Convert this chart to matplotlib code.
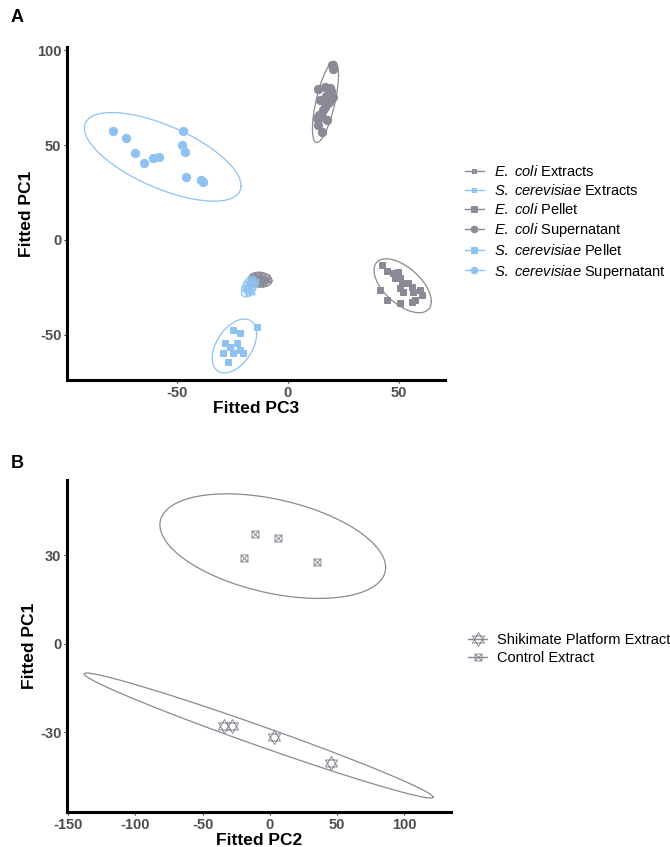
import numpy as np
import matplotlib
matplotlib.use("Agg")
import matplotlib.pyplot as plt
from matplotlib.path import Path
from matplotlib.lines import Line2D

plt.rcParams['font.family'] = ['Liberation Sans', 'DejaVu Sans']
plt.rcParams['mathtext.fontset'] = 'custom'
plt.rcParams['mathtext.rm'] = 'Liberation Sans'
plt.rcParams['mathtext.it'] = 'Liberation Sans:italic'
plt.rcParams['axes.unicode_minus'] = False

GRAY = '#8c8895'
BLUE = '#8ec2f0'

# ====================== DATA ======================
# Panel A: Fitted PC3 (x) vs Fitted PC1 (y)
ecoli_extract_x = [-15.5, -14, -12.5, -11, -9.5, -16, -14.5, -13, -11.5, -10,
                   -15, -13.5, -12, -10.5, -9, -14, -12, -10.8]
ecoli_extract_y = [-19, -18.2, -18.5, -18.8, -19.5, -20.5, -20, -20.3, -20.8, -21,
                   -22, -21.6, -22.2, -21.8, -21, -23, -23.4, -22.8]
scer_extract_x = [-17, -15.5, -14.5, -18.5, -17.5, -16, -15, -19, -18, -16.5,
                  -19.5, -18.5, -17, -16, -18]
scer_extract_y = [-21, -20.5, -21.5, -22.5, -23, -22.3, -23.4, -24.5, -25, -24.2,
                  -26, -26.8, -25.8, -27.5, -28]
ecoli_pellet_x = [42.2, 44.5, 47.4, 49.7, 48.2, 50.5, 51.2, 50.5, 51.9, 55.7,
                  56.4, 59.5, 60.2, 57.2, 55.7, 44.5, 50.5, 41.4, 54.2]
ecoli_pellet_y = [-13.2, -16.2, -17.5, -16.7, -20.2, -20.2, -22.8, -25.4, -27.2, -24.6,
                  -27.2, -26.3, -28.9, -31.6, -32.5, -31.6, -33.3, -26.3, -22.8]
ecoli_super_x = [19.7, 20.2, 18.9, 13.6, 16.7, 18.9, 20.4, 14.4, 18.2, 15.9,
                 12.9, 15.2, 13.6, 15.2, 17.4, 19.0, 17.0, 14.0, 16.5, 19.5]
ecoli_super_y = [92.1, 90.0, 80.0, 79.3, 80.4, 77.2, 75.4, 73.7, 71.9, 68.4,
                 64.0, 64.9, 60.5, 57.0, 63.2, 73.0, 76.0, 66.0, 70.0, 78.5]
scer_pellet_x = [-14.1, -24.6, -21.6, -28.4, -26.1, -23.1, -21.6, -24.6, -20.1, -29.1, -26.9]
scer_pellet_y = [-45.9, -47.4, -48.8, -54.4, -56.2, -54.4, -57.9, -59.6, -59.6, -59.6, -64.1]
scer_super_x = [-79, -73, -69, -65, -60.7, -58, -47.2, -47.7, -46.5, -46, -39, -38.1]
scer_super_y = [57.5, 53.7, 46, 40.7, 43.2, 43.5, 57.5, 49.8, 46.3, 33, 31.6, 30.5]

# Panel B: Fitted PC2 (x) vs Fitted PC1 (y)
shik_x = [-34.2, -28.0, 3.2, 45.3]
shik_y = [-27.7, -27.7, -31.6, -40.4]
ctrl_x = [-11.1, 6.4, -19.1, 35.0]
ctrl_y = [37.2, 35.8, 29.0, 27.7]

# ====================== MARKERS ======================
box_x = Path([(-1, -1), (1, -1), (1, 1), (-1, 1), (-1, -1), (-1, -1), (1, 1), (1, -1), (-1, 1)],
             [Path.MOVETO, Path.LINETO, Path.LINETO, Path.LINETO, Path.CLOSEPOLY,
              Path.MOVETO, Path.LINETO, Path.MOVETO, Path.LINETO])
h = np.sqrt(3) / 2
hexagram = Path([(0, 1), (h, -0.5), (-h, -0.5), (0, 1), (0, -1), (h, 0.5), (-h, 0.5), (0, -1)],
                [Path.MOVETO, Path.LINETO, Path.LINETO, Path.CLOSEPOLY,
                 Path.MOVETO, Path.LINETO, Path.LINETO, Path.CLOSEPOLY])


# ====================== ELLIPSE (like ggplot stat_ellipse) ======================
def cov_trob(xy, nu=5, maxit=25, tol=0.01):
    n, p = xy.shape
    wt = np.ones(n)
    loc = xy.mean(axis=0)
    w = np.sqrt(wt)
    for _ in range(maxit):
        w0 = w
        X = xy - loc
        _, d, vt = np.linalg.svd(np.sqrt(w / w.sum())[:, None] * X, full_matrices=False)
        wX = X @ vt.T @ np.diag(1 / d)
        Q = (wX ** 2).sum(axis=1)
        w = wt * (nu + p) / (nu + Q)
        loc = (w[:, None] * xy).sum(axis=0) / w.sum()
        if np.all(np.abs(w - w0) < tol):
            break
    sw = np.sqrt(w)[:, None] * X
    return loc, sw.T @ sw / wt.sum()


def ellipse(ax, xs, ys, color, level=0.95, lw=0.9):
    xy = np.column_stack([xs, ys]).astype(float)
    d = len(xy) - 1
    f = (d / 2) * ((1 - level) ** (-2 / d) - 1)  # qf(level, 2, d)
    radius = np.sqrt(2 * f)
    center, shape = cov_trob(xy)
    t = np.linspace(0, 2 * np.pi, 200)
    circle = np.column_stack([np.cos(t), np.sin(t)])
    L = np.linalg.cholesky(shape)
    pts = center + radius * circle @ L.T
    ax.plot(pts[:, 0], pts[:, 1], color=color, lw=lw, zorder=1)


def style(ax, xlabel, ylabel):
    for s in ['top', 'right']:
        ax.spines[s].set_visible(False)
    for s in ['left', 'bottom']:
        ax.spines[s].set_linewidth(2.2)
        ax.spines[s].set_color('black')
    ax.tick_params(length=2.5, width=0.8, color='#333333', labelcolor='#4d4d4d', labelsize=10.5, pad=1.5)
    for lab in ax.get_xticklabels() + ax.get_yticklabels():
        lab.set_fontweight('bold')
    ax.set_xlabel(xlabel, fontsize=12.5, fontweight='bold', labelpad=1)
    ax.set_ylabel(ylabel, fontsize=12.5, fontweight='bold', labelpad=2)


fig = plt.figure(figsize=(6.7, 8.47), dpi=100)

# ====================== PANEL A ======================
axA = fig.add_axes([0.1, 0.5514, 0.564, 0.3931])
groupsA = [
    (ecoli_extract_x, ecoli_extract_y, GRAY, box_x, 3.5, 'none', r'$\mathit{E.}$ $\mathit{coli}$ Extracts'),
    (scer_extract_x, scer_extract_y, BLUE, box_x, 3.5, 'none', r'$\mathit{S.}$ $\mathit{cerevisiae}$ Extracts'),
    (ecoli_pellet_x, ecoli_pellet_y, GRAY, 's', 5, GRAY, r'$\mathit{E.}$ $\mathit{coli}$ Pellet'),
    (ecoli_super_x, ecoli_super_y, GRAY, 'o', 6, GRAY, r'$\mathit{E.}$ $\mathit{coli}$ Supernatant'),
    (scer_pellet_x, scer_pellet_y, BLUE, 's', 5, BLUE, r'$\mathit{S.}$ $\mathit{cerevisiae}$ Pellet'),
    (scer_super_x, scer_super_y, BLUE, 'o', 6, BLUE, r'$\mathit{S.}$ $\mathit{cerevisiae}$ Supernatant'),
]
handlesA = []
for xs, ys, c, m, ms, fc, lab in groupsA:
    ellipse(axA, xs, ys, c)
    axA.plot(xs, ys, ls='none', marker=m, ms=ms, mfc=fc, mec=c, mew=0.7, zorder=2)
    handlesA.append(Line2D([], [], color=c, lw=1, marker=m, ms=ms * 0.8, mfc=fc, mec=c, mew=0.7, label=lab))
axA.set_xlim(-99.5, 70.7)
axA.set_ylim(-73.7, 101.6)
axA.set_xticks([-50, 0, 50])
axA.set_yticks([-50, 0, 50, 100])
style(axA, 'Fitted PC3', 'Fitted PC1')
fig.legend(handles=handlesA, loc='center left', bbox_to_anchor=(0.685, 0.7375), frameon=False,
           fontsize=10.5, handlelength=1.3, handletextpad=0.7, labelspacing=0.28, borderaxespad=0)

# ====================== PANEL B ======================
axB = fig.add_axes([0.1, 0.0413, 0.573, 0.392])
groupsB = [
    (shik_x, shik_y, hexagram, 10, 'Shikimate Platform Extract'),
    (ctrl_x, ctrl_y, box_x, 5, 'Control Extract'),
]
handlesB = []
for xs, ys, m, ms, lab in groupsB:
    ellipse(axB, xs, ys, GRAY)
    axB.plot(xs, ys, ls='none', marker=m, ms=ms, mfc='none', mec=GRAY, mew=0.7, zorder=2)
    handlesB.append(Line2D([], [], color=GRAY, lw=1, marker=m, ms=ms, mfc='none', mec=GRAY, mew=0.7, label=lab))
axB.set_xlim(-151, 135)
axB.set_ylim(-57, 55.6)
axB.set_xticks([-150, -100, -50, 0, 50, 100])
axB.set_yticks([-30, 0, 30])
style(axB, 'Fitted PC2', 'Fitted PC1')
fig.legend(handles=handlesB, loc='center left', bbox_to_anchor=(0.69, 0.2335), frameon=False,
           fontsize=10.5, handlelength=1.3, handletextpad=0.7, labelspacing=0.3, borderaxespad=0)

fig.text(0.016, 0.979, 'A', fontsize=13, fontweight='bold', va='center')
fig.text(0.016, 0.453, 'B', fontsize=13, fontweight='bold', va='center')

fig.savefig('out.png', dpi=100)
